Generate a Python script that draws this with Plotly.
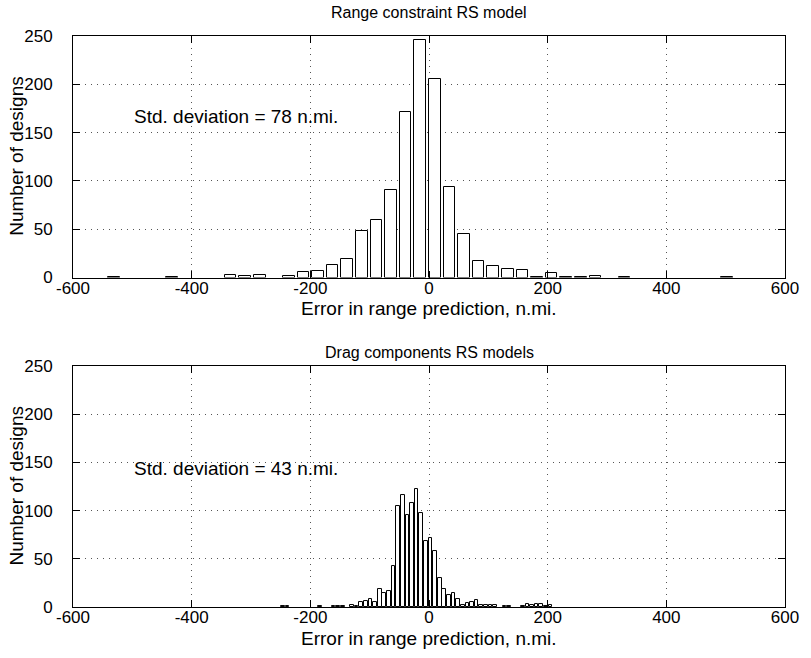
import plotly.graph_objects as go

# ---- Data ----
# Top panel: Range constraint RS model (bin centres, n.mi. / counts)
range_bin_centers = [-531.4, -433.0, -334.6, -310.0, -285.4, -236.2, -211.6, -187.0,
                     -162.4, -137.8, -113.2, -88.6, -64.0, -39.4, -14.8, 9.8, 34.4,
                     59.0, 83.6, 108.2, 132.8, 157.4, 182.0, 206.6, 231.2, 255.8,
                     280.4, 329.6, 501.8]
range_counts = [1, 1, 3, 2, 3, 2, 6, 7, 13, 19, 48, 60, 91, 171, 246, 205, 94,
                45, 17, 12, 9, 8, 1, 5, 1, 1, 2, 1, 1]
range_bin_width = 19.7

# Bottom panel: Drag components RS models
drag_bin_centers = [-246.5, -238.7, -184.2, -160.9, -153.1, -145.3, -129.8, -122.0,
                    -114.2, -106.4, -98.7, -90.9, -83.1, -75.3, -67.5, -59.8, -52.0,
                    -44.2, -36.4, -28.6, -20.9, -13.1, -5.3, 2.5, 10.3, 18.0, 25.8,
                    33.6, 41.4, 49.2, 56.9, 64.7, 72.5, 80.3, 88.1, 95.8, 103.6,
                    111.4, 127.0, 134.7, 158.1, 165.9, 173.6, 181.4, 189.2, 197.0, 204.8]
drag_counts = [1, 1, 1, 1, 1, 1, 2, 1,
               5, 6, 8, 5, 19, 15, 17, 43, 105,
               116, 95, 108, 122, 98, 68, 72, 58, 30, 19,
               12, 14, 8, 2, 4, 5, 7, 2, 2, 2,
               2, 1, 1, 1, 3, 2, 3, 3, 1, 2]
drag_bin_width = 6.2

x_ticks = [-600, -400, -200, 0, 200, 400, 600]
x_tick_text = ["-600", "-400", "-200", "0", "200", "400", "600"]
y_ticks = [0, 50, 100, 150, 200, 250]

titles = ["Range constraint RS model", "Drag components RS models"]
std_texts = ["Std. deviation = 78 n.mi.", "Std. deviation = 43 n.mi."]
x_label = "Error in range prediction, n.mi."
y_label = "Number of designs"

FONT = "Liberation Sans, Arial, Helvetica, sans-serif"
TICK = dict(family=FONT, size=17, color="black")
TITLE = dict(family=FONT, size=16, color="black")
LABEL = dict(family=FONT, size=19, color="black")

TOP_DOM = [0.577, 1.0]
BOT_DOM = [0.0, 0.422]

fig = go.Figure()
fig.add_trace(go.Bar(x=range_bin_centers, y=range_counts, width=range_bin_width,
                     marker=dict(color="white", line=dict(color="black", width=1)),
                     xaxis="x", yaxis="y", showlegend=False))
fig.add_trace(go.Bar(x=drag_bin_centers, y=drag_counts, width=drag_bin_width,
                     marker=dict(color="white", line=dict(color="black", width=1)),
                     xaxis="x2", yaxis="y2", showlegend=False))

common_x = dict(range=[-600, 600], tickvals=x_ticks, ticktext=x_tick_text,
                showline=True, linecolor="black",
                linewidth=1, mirror="ticks", ticks="inside", ticklen=7, tickcolor="black",
                showgrid=True, gridcolor="#555", gridwidth=1, griddash="1px,5px",
                zeroline=False, tickfont=TICK, ticklabelstandoff=-5)
common_y = dict(range=[0, 250], tickvals=y_ticks, showline=True, linecolor="black",
                linewidth=1, mirror="ticks", ticks="inside", ticklen=7, tickcolor="black",
                showgrid=True, gridcolor="#555", gridwidth=1, griddash="1px,5px",
                zeroline=False, tickfont=TICK, ticklabelstandoff=16)

fig.update_layout(
    width=811, height=658,
    margin=dict(l=73, r=18, t=36, b=51),
    paper_bgcolor="white", plot_bgcolor="white",
    bargap=0,
    xaxis=dict(common_x, domain=[0, 1], anchor="y"),
    yaxis=dict(common_y, domain=TOP_DOM, anchor="x"),
    xaxis2=dict(common_x, domain=[0, 1], anchor="y2"),
    yaxis2=dict(common_y, domain=BOT_DOM, anchor="x2"),
)

# subplot titles
fig.add_annotation(text=titles[0], xref="paper", yref="paper", x=0.5, y=TOP_DOM[1],
                   yshift=24, xanchor="center", yanchor="middle", showarrow=False, font=TITLE)
fig.add_annotation(text=titles[1], xref="paper", yref="paper", x=0.5, y=BOT_DOM[1],
                   yshift=14, xanchor="center", yanchor="middle", showarrow=False, font=TITLE)
# axis labels
for dom in (TOP_DOM, BOT_DOM):
    fig.add_annotation(text=x_label, xref="paper", yref="paper", x=0.5, y=dom[0],
                       yshift=-31, xanchor="center", yanchor="middle", showarrow=False, font=LABEL)
    fig.add_annotation(text=y_label, xref="paper", yref="paper", x=0, y=(dom[0] + dom[1]) / 2,
                       xshift=-56, xanchor="center", yanchor="middle", textangle=-90,
                       showarrow=False, font=LABEL)
# std-deviation notes
fig.add_annotation(text=std_texts[0], xref="x", yref="y", x=-500, y=167,
                   xanchor="left", yanchor="middle", showarrow=False, font=LABEL)
fig.add_annotation(text=std_texts[1], xref="x2", yref="y2", x=-500, y=144,
                   xanchor="left", yanchor="middle", showarrow=False, font=LABEL)

fig.write_html("out.html")
